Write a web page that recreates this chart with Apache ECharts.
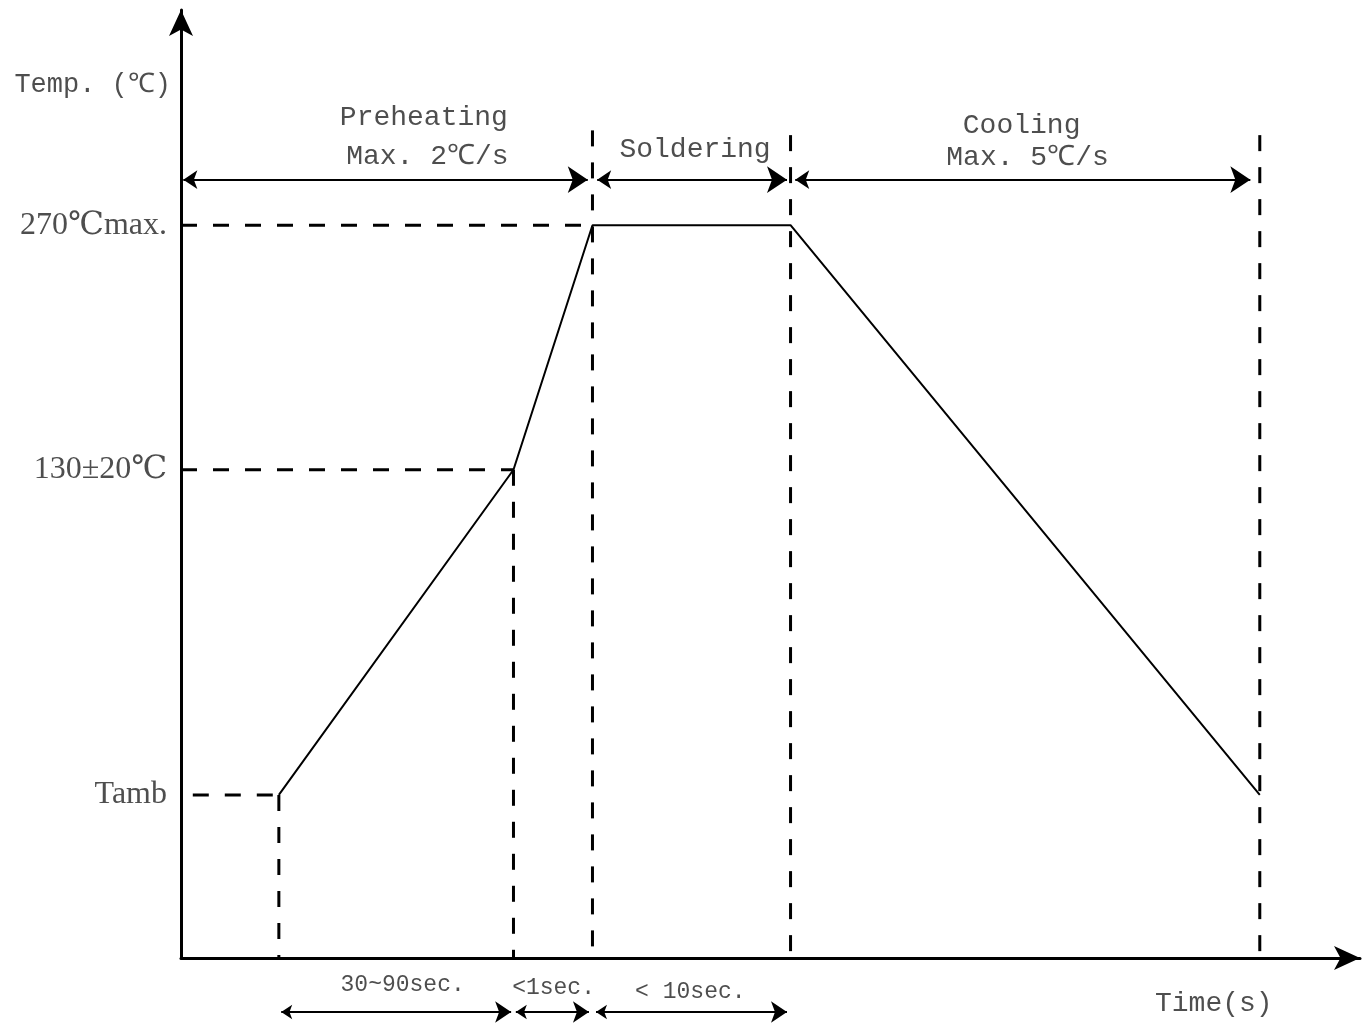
<!DOCTYPE html>
<html>
<head>
<meta charset="utf-8">
<script src="https://cdn.jsdelivr.net/npm/echarts@6/dist/echarts.min.js"></script>
<style>
  html, body { margin: 0; padding: 0; background: #ffffff; }
  #chart { width: 1369px; height: 1026px; }
</style>
</head>
<body>
<div id="chart"></div>
<script>
// ---- Data (schematic units) ----
// Reflow temperature profile
const profileTime = [8.3, 28.2, 34.9, 51.7, 91.5];
const profileTemp = [17.2, 51.5, 77.3, 77.3, 17.2];

// Temperature levels (left-side labels and horizontal dashed guides)
const levelNames = ['Tamb', '130±20℃', '270℃max.'];
const levelTemp = [17.2, 51.5, 77.3];
const levelDashFrom = [1.0, 0, 0];
const levelDashTo = [8.3, 28.2, 34.9];

// Vertical dashed guides
const guideTime = [8.3, 28.2, 34.9, 51.7, 91.5];
const guideTop = [17.2, 51.5, 87.3, 86.8, 86.8];

// Phase spans (top double arrows)
const phaseStart = [0.2, 35.3, 52.1];
const phaseEnd = [34.5, 51.4, 90.7];
const phaseLevel = 82.1;
const phaseTitles = ['Preheating', 'Soldering', 'Cooling'];
const phaseTitleX = [20.6, 43.6, 71.3];
const phaseTitleY = [88.7, 85.3, 87.8];
const phaseRates = ['Max. 2℃/s', 'Max. 5℃/s'];
const phaseRateX = [20.9, 71.8];
const phaseRateY = [84.5, 84.4];

// Duration spans (bottom double arrows)
const durStart = [8.5, 28.4, 35.2];
const durEnd = [28.0, 34.6, 51.4];
const durLevel = -5.7;
const durNames = ['30~90sec.', '<1sec.', '< 10sec.'];
const durLabelX = [18.8, 31.6, 43.2];
const durLabelY = [-2.85, -3.2, -3.6];

// Axis titles
const yTitle = 'Temp. (℃)';
const yTitleY = 92.1;
const xTitle = 'Time(s)';
const xTitlePos = [87.6, -4.85];

// ---- Chart ----
const chart = echarts.init(document.getElementById('chart'));
const MONO = '"Liberation Mono", "DejaVu Sans Mono", monospace';
const SERIF = '"Liberation Serif", "DejaVu Serif", serif';
const dash = { color: '#000', width: 3, type: [16, 16] };

const series = [];

// profile
series.push({
  type: 'line',
  data: profileTime.map((t, i) => [t, profileTemp[i]]),
  symbol: 'none',
  lineStyle: { color: '#000', width: 2 },
  clip: false,
  silent: true,
  z: 5
});

// horizontal dashed guides
levelTemp.forEach((v, i) => {
  series.push({
    type: 'line',
    data: [[levelDashFrom[i], v], [levelDashTo[i], v]],
    symbol: 'none',
    lineStyle: dash,
    clip: false,
    silent: true
  });
});

// vertical dashed guides (drawn top-down so the dash pattern starts at the top)
guideTime.forEach((t, i) => {
  series.push({
    type: 'line',
    data: [[t, guideTop[i]], [t, 0]],
    symbol: 'none',
    lineStyle: dash,
    clip: false,
    silent: true
  });
});

// double arrows
series.push({
  type: 'lines',
  coordinateSystem: 'cartesian2d',
  data: phaseStart.map((s, i) => ({ coords: [[s, phaseLevel], [phaseEnd[i], phaseLevel]] })),
  symbol: ['arrow', 'arrow'],
  symbolSize: [14, 20],
  lineStyle: { color: '#000', width: 2, opacity: 1 },
  clip: false,
  silent: true
});
series.push({
  type: 'lines',
  coordinateSystem: 'cartesian2d',
  data: durStart.map((s, i) => ({ coords: [[s, durLevel], [durEnd[i], durLevel]] })),
  symbol: ['arrow', 'arrow'],
  symbolSize: [11, 16],
  lineStyle: { color: '#000', width: 2, opacity: 1 },
  clip: false,
  silent: true
});

// level labels
series.push({
  type: 'scatter',
  symbolSize: 0,
  clip: false,
  silent: true,
  data: levelNames.map((n, i) => ({ name: n, value: [0, levelTemp[i]] })),
  label: {
    show: true, position: 'left', distance: 14, formatter: '{b}',
    color: '#222', fontFamily: SERIF, fontSize: 32
  }
});
// y title
series.push({
  type: 'scatter',
  symbolSize: 0,
  clip: false,
  silent: true,
  data: [{ name: yTitle, value: [0, yTitleY] }],
  label: {
    show: true, position: 'left', distance: 10, formatter: '{b}',
    color: '#222', fontFamily: MONO, fontSize: 27
  }
});
// phase titles and rates
series.push({
  type: 'scatter',
  symbolSize: 0,
  clip: false,
  silent: true,
  data: phaseTitles.map((n, i) => ({ name: n, value: [phaseTitleX[i], phaseTitleY[i]] }))
    .concat(phaseRates.map((n, i) => ({ name: n, value: [phaseRateX[i], phaseRateY[i]] }))),
  label: {
    show: true, position: 'inside', formatter: '{b}',
    color: '#222', fontFamily: MONO, fontSize: 28
  }
});
// duration labels
series.push({
  type: 'scatter',
  symbolSize: 0,
  clip: false,
  silent: true,
  data: durNames.map((n, i) => ({ name: n, value: [durLabelX[i], durLabelY[i]] })),
  label: {
    show: true, position: 'inside', formatter: '{b}',
    color: '#222', fontFamily: MONO, fontSize: 23
  }
});
// x title
series.push({
  type: 'scatter',
  symbolSize: 0,
  clip: false,
  silent: true,
  data: [{ name: xTitle, value: xTitlePos }],
  label: {
    show: true, position: 'inside', formatter: '{b}',
    color: '#222', fontFamily: MONO, fontSize: 28
  }
});

const axisCommon = {
  type: 'value',
  min: 0,
  max: 100,
  axisLabel: { show: false },
  axisTick: { show: false },
  splitLine: { show: false },
  axisLine: {
    show: true,
    onZero: false,
    symbol: ['none', 'arrow'],
    symbolSize: [18, 26],
    lineStyle: { color: '#000', width: 3 }
  }
};

chart.setOption({
  animation: false,
  backgroundColor: '#ffffff',
  grid: { left: 181, right: 9, top: 10, bottom: 68 },
  xAxis: Object.assign({}, axisCommon),
  yAxis: Object.assign({}, axisCommon),
  series: series
});
</script>
</body>
</html>
